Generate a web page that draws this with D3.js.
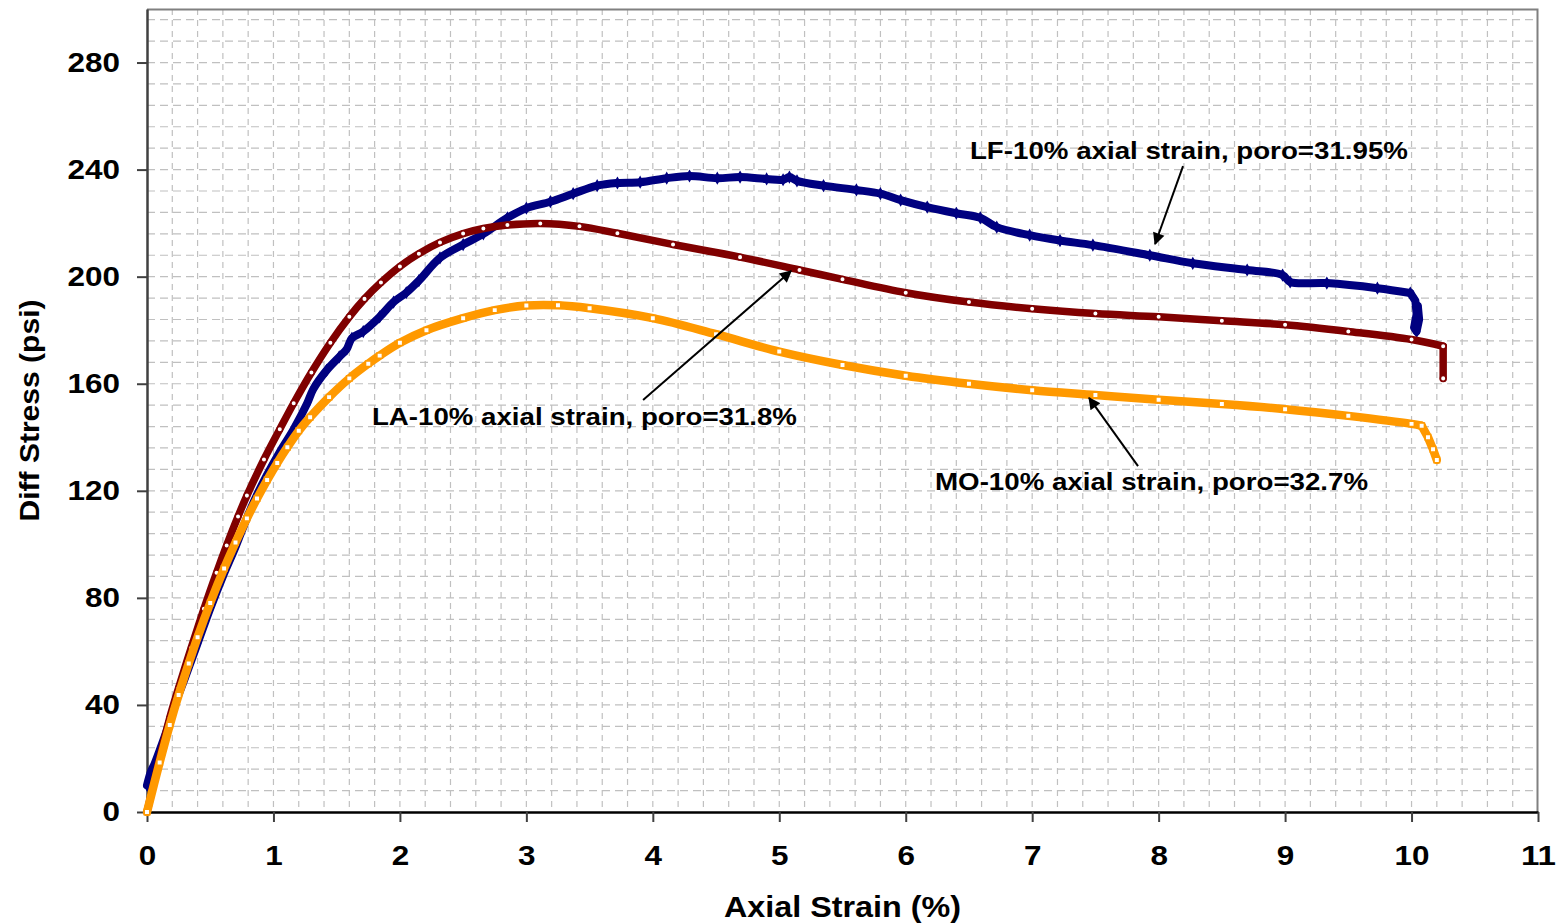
<!DOCTYPE html>
<html>
<head>
<meta charset="utf-8">
<script src="https://cdn.jsdelivr.net/npm/d3@7"></script>
<style>
  body { margin: 0; background: #fff; }
  svg { display: block; }
  text { font-family: Arial, "Liberation Sans", sans-serif; font-weight: bold; fill: #000; }
</style>
</head>
<body>
<div id="chart"></div>
<script>
// LF-10% axial strain, poro=31.95%  (navy diamonds)
const strainLF = [0, 0.03, 0.06, 0.1, 0.16, 0.22, 0.3, 0.4, 0.5, 0.6, 0.7, 0.8, 0.87, 0.95, 1.05, 1.16,
  1.265, 1.315, 1.42, 1.52, 1.58, 1.62, 1.71, 1.84, 1.95, 2.05, 2.15, 2.317, 2.5, 2.66, 2.85, 3.0,
  3.19, 3.37, 3.56, 3.72, 3.9, 4.11, 4.29, 4.51, 4.69, 4.9, 5.03, 5.08, 5.14, 5.35, 5.61, 5.8, 5.96,
  6.17, 6.4, 6.59, 6.72, 6.98, 7.22, 7.48, 7.93, 8.27, 8.7, 8.98, 9.04, 9.33, 9.73, 9.99,
  10.03, 10.04, 10.02, 10.04, 10.06, 10.05];
const stressLF = [10, 15, 18, 23, 31, 40, 50, 63, 76, 88, 99, 111, 118.5, 126, 134.5, 143,
  152.5, 158, 165, 170, 173, 177, 179.5, 185, 190.5, 194, 198.5, 207, 212, 216, 222, 225.6,
  228, 231, 234, 235, 235.3, 236.8, 237.6, 236.8, 237.2, 236.5, 236.2, 237.2, 235.8, 234, 232.4, 231, 228.6,
  226, 223.7, 222, 218.5, 215.5, 213.5, 211.8, 208, 205, 202.5, 200.6, 198, 197.6, 195.7, 193.9,
  191, 186, 181, 179.5, 184, 189];

// LA-10% axial strain, poro=31.8%  (maroon circles)
const strainLA = [0, 0.05, 0.1, 0.18, 0.25, 0.35, 0.45, 0.55, 0.63, 0.72, 0.79, 0.925, 1.05, 1.16,
  1.3, 1.45, 1.6, 1.72, 1.85, 2.0, 2.15, 2.317, 2.5, 2.66, 2.85, 3.11, 3.42, 3.72, 4.16, 4.69,
  5.16, 5.5, 6.0, 6.5, 7.0, 7.5, 8.0, 8.5, 9.0, 9.5, 10.0, 10.25, 10.25];
const stressLA = [0, 10, 20, 35.2, 46.4, 61.4, 75.9, 89.4, 99.6, 110.4, 118.2, 131.7, 143, 152.7,
  164.2, 175.3, 185, 191.7, 197.8, 203.8, 208.6, 212.8, 216.1, 218, 219.3, 219.9, 218.8, 216.2, 212, 207.3,
  202.5, 199, 194, 190.5, 188, 186.2, 185, 183.5, 182, 179.5, 176.5, 174, 162];

// MO-10% axial strain, poro=32.7%  (orange squares)
const strainMO = [0, 0.1, 0.18, 0.25, 0.33, 0.4, 0.5, 0.61, 0.7, 0.79, 0.87, 0.95, 1.03,
  1.11, 1.2, 1.29, 1.44, 1.6, 1.75, 1.84, 2.0, 2.21, 2.5, 2.75, 3.0, 3.25, 3.5, 4.0, 4.5, 5.0,
  5.5, 6.0, 6.5, 7.0, 7.5, 8.0, 8.5, 9.0, 9.5, 10.0, 10.08, 10.13, 10.17, 10.2];
const stressMO = [0, 18.5, 32.5, 43.7, 55.5, 65.3, 78.1, 91, 100.7, 109.7, 117.1, 124, 130.4,
  136.3, 142.4, 147.5, 155, 162, 167.5, 170.5, 175.3, 180, 184.5, 187.5, 189.2, 189.3, 188.2, 184.5, 178.5, 172,
  167, 163, 160, 157.6, 155.8, 154, 152.4, 150.5, 148, 145, 144.3, 140, 135.5, 131.5];

const xTicks = [0, 1, 2, 3, 4, 5, 6, 7, 8, 9, 10, 11];
const yTicks = [0, 40, 80, 120, 160, 200, 240, 280];

// annotation text anchors and arrows, in data units
const noteText = ["LF-10% axial strain, poro=31.95%", "LA-10% axial strain, poro=31.8%", "MO-10% axial strain, poro=32.7%"];
const noteX = [6.508, 1.779, 6.232];
const noteY = [243.9, 144.6, 120.3];
const noteW = [438, 425, 433];
const arrowFrom = [[8.193, 241.3], [3.923, 153.9], [7.837, 129.2]];
const arrowTo = [[7.972, 212.2], [5.093, 202.1], [7.45, 154.7]];

const W = 1562, H = 924;
const margin = { top: 9, right: 24, bottom: 112, left: 147 };
const iw = W - margin.left - margin.right;
const ih = H - margin.top - margin.bottom;

const x = d3.scaleLinear().domain([0, 11]).range([0, iw]);
const y = d3.scaleLinear().domain([0, 300]).range([ih, 0]);

const svg = d3.select("#chart").append("svg")
  .attr("width", W).attr("height", H);

svg.append("defs").append("marker")
  .attr("id", "arrow").attr("viewBox", "0 0 10 10")
  .attr("refX", 9).attr("refY", 5)
  .attr("markerWidth", 7).attr("markerHeight", 6)
  .attr("markerUnits", "strokeWidth")
  .attr("orient", "auto")
  .append("path").attr("d", "M0,0 L10,5 L0,10 z").attr("fill", "#000");

const g = svg.append("g").attr("transform", `translate(${margin.left},${margin.top})`);

// dashed grid (minor units 0.2 and 8)
const gridX = d3.range(1, 55).map(i => i * 0.2);
const gridY = d3.range(1, 38).map(i => i * 8);
g.append("g").selectAll("line").data(gridX).join("line")
  .attr("x1", d => x(d)).attr("x2", d => x(d))
  .attr("y1", 0).attr("y2", ih)
  .attr("stroke", "#c0c0c0").attr("stroke-width", 1.2).attr("stroke-dasharray", "6,5");
g.append("g").selectAll("line").data(gridY).join("line")
  .attr("y1", d => y(d)).attr("y2", d => y(d))
  .attr("x1", 0).attr("x2", iw)
  .attr("stroke", "#c0c0c0").attr("stroke-width", 1.2).attr("stroke-dasharray", "8,5");

// plot border top/right
g.append("path").attr("d", `M0,0.5 H${iw - 0.5} V${ih}`)
  .attr("fill", "none").attr("stroke", "#808080").attr("stroke-width", 2);

// axes
const xAxis = g.append("g").attr("transform", `translate(0,${ih})`)
  .call(d3.axisBottom(x).tickValues(xTicks).tickSize(10).tickPadding(24).tickSizeOuter(0));
const yAxis = g.append("g")
  .call(d3.axisLeft(y).tickValues(yTicks).tickSize(10).tickPadding(17).tickSizeOuter(0));
xAxis.select(".domain").attr("stroke", "#000").attr("stroke-width", 2.5);
yAxis.select(".domain").attr("stroke", "#404040").attr("stroke-width", 2.5);
xAxis.selectAll(".tick line").attr("stroke", "#404040").attr("stroke-width", 2);
yAxis.selectAll(".tick line").attr("stroke", "#404040").attr("stroke-width", 2);
[xAxis, yAxis].forEach(ax => ax.selectAll("text")
  .style("font-size", "27px").style("font-family", "Arial, 'Liberation Sans', sans-serif").style("font-weight", "bold")
  .attr("textLength", d => String(d).length * 17.5).attr("lengthAdjust", "spacingAndGlyphs"));

// series
const series = [
  { xs: strainLF, ys: stressLF, tail: 63, color: "#000080", band: 8, shape: d3.symbolDiamond, size: 30, fill: "#000080" },
  { xs: strainLA, ys: stressLA, tail: 41, color: "#800000", band: 7.5, shape: d3.symbolCircle, size: 24, fill: "#fff" },
  { xs: strainMO, ys: stressMO, tail: 40, color: "#FF9900", band: 8.5, shape: d3.symbolSquare, size: 30, fill: "#fff" }
];
const smooth = d3.line().x(d => x(d[0])).y(d => y(d[1])).curve(d3.curveCatmullRom.alpha(0.5));
const straight = d3.line().x(d => x(d[0])).y(d => y(d[1]));

series.forEach(s => {
  const pts = s.xs.map((v, i) => [v, s.ys[i]]);
  [[smooth, pts.slice(0, s.tail + 1)], [straight, pts.slice(s.tail)]].forEach(([gen, part]) => {
    g.append("path").datum(part)
      .attr("d", gen)
      .attr("fill", "none").attr("stroke", s.color)
      .attr("stroke-width", s.band).attr("stroke-linejoin", "round").attr("stroke-linecap", "round");
  });
  g.append("g").selectAll("path").data(pts).join("path")
    .attr("transform", d => `translate(${x(d[0])},${y(d[1])})`)
    .attr("d", d3.symbol().type(s.shape).size(s.size))
    .attr("fill", s.fill).attr("stroke", s.color).attr("stroke-width", 1.5);
});

// annotations
noteText.forEach((t, i) => {
  g.append("text")
    .attr("x", x(noteX[i])).attr("y", y(noteY[i]))
    .attr("textLength", noteW[i]).attr("lengthAdjust", "spacingAndGlyphs")
    .style("font-size", "24px").text(t);
  g.append("line")
    .attr("x1", x(arrowFrom[i][0])).attr("y1", y(arrowFrom[i][1]))
    .attr("x2", x(arrowTo[i][0])).attr("y2", y(arrowTo[i][1]))
    .attr("stroke", "#000").attr("stroke-width", 2)
    .attr("marker-end", "url(#arrow)");
});

// axis titles
svg.append("text")
  .attr("x", margin.left + x(5.5)).attr("y", 917)
  .attr("text-anchor", "middle")
  .attr("textLength", 237).attr("lengthAdjust", "spacingAndGlyphs")
  .style("font-size", "30px").text("Axial Strain (%)");
svg.append("text")
  .attr("transform", `translate(39,${margin.top + y(150)}) rotate(-90)`)
  .attr("text-anchor", "middle")
  .attr("textLength", 222).attr("lengthAdjust", "spacingAndGlyphs")
  .style("font-size", "28px").text("Diff Stress (psi)");
</script>
</body>
</html>
